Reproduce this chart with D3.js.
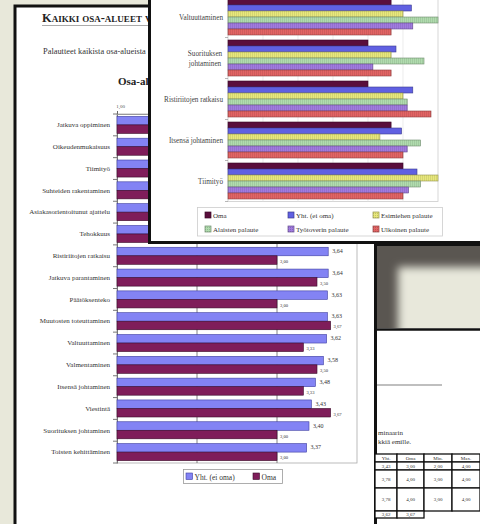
<!DOCTYPE html>
<html><head><meta charset="utf-8">
<script src="https://cdn.jsdelivr.net/npm/d3@7"></script>
<style>
html,body{margin:0;padding:0;background:#e8e8da;overflow:hidden}
svg{display:block}
text{font-family:"Liberation Serif","DejaVu Serif",serif}
</style>
</head><body>
<svg id="c" width="480" height="524"></svg>
<script>
// ---------- DATA ----------
const leftCategories = ["Jatkuva oppiminen","Oikeudenmukaisuus","Tiimityö","Suhteiden rakentaminen","Asiakasorientoitunut ajattelu","Tehokkuus","Ristiriitojen ratkaisu","Jatkuva parantaminen","Päätöksenteko","Muutosten toteuttaminen","Valtuuttaminen","Valmentaminen","Itsensä johtaminen","Viestintä","Suorituksen johtaminen","Toisten kehittäminen"];
const leftYht = [3.80,3.75,3.70,3.68,3.66,3.65,3.64,3.64,3.63,3.63,3.62,3.58,3.48,3.43,3.40,3.37];
const leftOma = [3.67,3.33,3.50,3.33,3.67,3.00,3.00,3.50,3.00,3.67,3.33,3.50,3.33,3.67,3.00,3.00];
const leftSeries = ["Yht. (ei oma)","Oma"];
const leftTicks = [1,2,3,4];

const frontCategories = ["Valtuuttaminen","Suorituksen johtaminen","Ristiriitojen ratkaisu","Itsensä johtaminen","Tiimityö"];
const frontSeries = ["Oma","Yht. (ei oma)","Esimiehen palaute","Alaisten palaute","Työtoverin palaute","Ulkoinen palaute"];
const frontOma = [3.33,3.00,3.00,3.33,3.50];
const frontYht = [3.62,3.40,3.64,3.48,3.70];
const frontEsimies = [3.50,3.33,3.50,3.17,4.00];
const frontAlaiset = [4.00,3.80,3.56,3.75,3.75];
const frontTyotoverit = [3.64,3.07,3.56,3.56,3.58];
const frontUlkoinen = [3.33,3.33,3.90,3.50,3.50];
const frontGrid = [1.5,2,2.5,3,3.5];

const tableHeader = ["Yht.","Oma","Min.","Max."];
const tableRows = [["3,43","3,00","2,00","4,00"],["3,78","4,00","3,00","4,00"],["3,78","4,00","3,00","4,00"],["3,62","3,67"]];

// ---------- SETUP ----------
const svg = d3.select("#c");
const fmt = v => d3.format(".2f")(v).replace(".", ",");
const defs = svg.append("defs");
const FRONT_BOTTOM = 243;   // front page lower edge
const FRONT_LEFT = 148;     // front page left edge

defs.append("clipPath").attr("id","leftVisible").append("rect")
  .attr("x",0).attr("y",0).attr("width",FRONT_LEFT).attr("height",FRONT_BOTTOM);

// ================= LEFT PAGE =================
svg.append("rect").attr("x",15).attr("y",6).attr("width",420).attr("height",570)
  .attr("fill","#fff").attr("stroke","#111").attr("stroke-width",3);

const head = svg.append("g").attr("clip-path","url(#leftVisible)");
head.append("text").attr("x",42).attr("y",22).attr("font-size",12.4).attr("font-weight","bold")
  .style("font-variant","small-caps").attr("fill","#222").text("Kaikki osa-alueet v");
head.append("line").attr("x1",42).attr("x2",300).attr("y1",25.5).attr("y2",25.5)
  .attr("stroke","#aaa").attr("stroke-width",1.2);
head.append("text").attr("x",43).attr("y",54).attr("font-size",8.4).attr("fill","#333")
  .text("Palautteet kaikista osa-alueista");
head.append("text").attr("x",118).attr("y",85).attr("font-size",11).attr("font-weight","bold")
  .attr("fill","#222").text("Osa-alueet");

const lx = d3.scaleLinear().domain([1,4]).range([117,357]);
const ly = d3.scaleBand().domain(leftCategories).range([114,463]);
const lInner = d3.scaleBand().domain(leftSeries).range([0, ly.bandwidth()]).paddingOuter(0.28);
const leftColors = {"Yht. (ei oma)":"#8383f4","Oma":"#7f1d5a"};
const leftStroke = {"Yht. (ei oma)":"#3c3ca0","Oma":"#3a0a28"};

const L = svg.append("g");
L.append("rect").attr("x",lx(1)).attr("y",114).attr("width",lx(4)-lx(1)).attr("height",463-114)
  .attr("fill","none").attr("stroke","#aaa").attr("stroke-width",0.8);
L.selectAll(".lg").data(leftTicks.slice(1,3)).join("line")
  .attr("x1",d=>lx(d)).attr("x2",d=>lx(d)).attr("y1",114).attr("y2",463)
  .attr("stroke","#666").attr("stroke-width",0.8);
const topAxis = d3.axisTop(lx).tickValues(leftTicks.filter(v=>lx(v)<FRONT_LEFT)).tickSize(3).tickFormat(fmt);
const tg = L.append("g").attr("transform","translate(0,114)").call(topAxis);
tg.select(".domain").attr("stroke","#999");
tg.selectAll("text").attr("font-size",5).attr("fill","#555").attr("dx",3)
  .style("font-family","Liberation Serif");
tg.selectAll("line").attr("stroke","#666");
const leftAxis = d3.axisLeft(ly).tickSize(0).tickPadding(7);
const lg = L.append("g").attr("transform",`translate(${lx(1)},0)`).call(leftAxis);
lg.select(".domain").attr("stroke","#777");
lg.selectAll("text").attr("font-size",7).attr("fill","#333").style("font-family","Liberation Serif");
L.selectAll(".bt").data(d3.range(leftCategories.length+1)).join("line")
  .attr("x1",lx(1)-4).attr("x2",lx(1)).attr("y1",i=>114+i*ly.step()).attr("y2",i=>114+i*ly.step())
  .attr("stroke","#555").attr("stroke-width",0.8);

const leftRows = leftCategories.map((c,i)=>({c, vals:[{s:"Yht. (ei oma)",v:leftYht[i]},{s:"Oma",v:leftOma[i]}]}));
const lgrp = L.selectAll(".lc").data(leftRows).join("g").attr("transform",d=>`translate(0,${ly(d.c)})`);
lgrp.selectAll("rect").data(d=>d.vals).join("rect")
  .attr("x",lx(1)).attr("y",d=>lInner(d.s)).attr("width",d=>lx(d.v)-lx(1)).attr("height",lInner.bandwidth())
  .attr("fill",d=>leftColors[d.s]).attr("stroke",d=>leftStroke[d.s]).attr("stroke-width",0.6);
lgrp.filter(d=>ly(d.c)+lInner(leftSeries[0]) > FRONT_BOTTOM)
  .selectAll("text").data(d=>d.vals).join("text")
  .attr("x",d=>lx(d.v)+(d.s==="Oma"?3:4))
  .attr("y",d=>lInner(d.s)+lInner.bandwidth()/2+(d.s==="Oma"?3:1.5))
  .attr("font-size",d=>d.s==="Oma"?4.6:6).attr("fill","#333").text(d=>fmt(d.v));

const LL = svg.append("g");
LL.append("rect").attr("x",183.5).attr("y",469.5).attr("width",99).attr("height",14)
  .attr("fill","#fff").attr("stroke","#999").attr("stroke-width",0.8);
const llx = d3.scaleOrdinal().domain(leftSeries).range([186,253]);
const lli = LL.selectAll(".li").data(leftSeries).join("g");
lli.append("rect").attr("x",d=>llx(d)).attr("y",473).attr("width",6.5).attr("height",6.5)
  .attr("fill",d=>leftColors[d]).attr("stroke",d=>leftStroke[d]).attr("stroke-width",0.6);
lli.append("text").attr("x",d=>llx(d)+8.5).attr("y",479.5).attr("font-size",7.5).attr("fill","#333").text(d=>d);

// ================= BOTTOM-RIGHT PAGE =================
svg.append("rect").attr("x",375.5).attr("y",244.5).attr("width",140).attr("height",320)
  .attr("fill","#fff").attr("stroke","#111").attr("stroke-width",3);
defs.append("clipPath").attr("id","shclip").append("rect").attr("x",377).attr("y",246).attr("width",103).attr("height",82);
defs.append("filter").attr("id","blur").attr("x","-50%").attr("y","-50%").attr("width","200%").attr("height","200%")
  .append("feGaussianBlur").attr("stdDeviation",4);
const sh = svg.append("g").attr("clip-path","url(#shclip)");
sh.append("rect").attr("x",377).attr("y",246).attr("width",103).attr("height",82).attr("fill","#5a5651");
sh.append("rect").attr("x",398).attr("y",267).attr("width",200).attr("height",150).attr("fill","#e8e8db").attr("filter","url(#blur)");
svg.append("line").attr("x1",375).attr("x2",480).attr("y1",329.5).attr("y2",329.5).attr("stroke","#111").attr("stroke-width",2.5);
svg.append("line").attr("x1",377).attr("x2",442).attr("y1",385).attr("y2",385).attr("stroke","#aaa").attr("stroke-width",1.5);
svg.append("text").attr("x",378).attr("y",434.5).attr("font-size",7).attr("fill","#333").text("minaarin");
svg.append("text").attr("x",378).attr("y",444).attr("font-size",7).attr("fill","#333").text("kkiä emille.");

const colEdges = [375,397,424,452,480];
const rowEdges = [454,462,470,488,511,518];
const T = svg.append("g");
const allRows = [tableHeader].concat(tableRows);
allRows.forEach((row,ri)=>{
  row.forEach((cell,ci)=>{
    T.append("rect").attr("x",colEdges[ci]).attr("y",rowEdges[ri]).attr("width",colEdges[ci+1]-colEdges[ci])
      .attr("height",rowEdges[ri+1]-rowEdges[ri]).attr("fill","#fff").attr("stroke","#111").attr("stroke-width",1.3);
    T.append("text").attr("x",(colEdges[ci]+colEdges[ci+1])/2).attr("y",(rowEdges[ri]+rowEdges[ri+1])/2+1.8)
      .attr("text-anchor","middle").attr("font-size",5).attr("fill","#333").text(cell);
  });
});

// ================= FRONT PAGE =================
svg.append("rect").attr("x",FRONT_LEFT+1.5).attr("y",-10).attr("width",340).attr("height",FRONT_BOTTOM+10-0.5)
  .attr("fill","#fff").attr("stroke","#111").attr("stroke-width",3);

const fx = d3.scaleLinear().domain([1,4]).range([228,438]);
const fy = d3.scaleBand().domain(frontCategories).range([-3.5,201.5]);
const fInner = d3.scaleBand().domain(frontSeries).range([0,fy.bandwidth()]).paddingOuter(0.417);
const frontColors = ["#5a0e3c","#6060e2","#e8e87c","#b0dcae","#a17be0","#e26464"];
const frontValues = [frontOma,frontYht,frontEsimies,frontAlaiset,frontTyotoverit,frontUlkoinen];

frontSeries.forEach((s,i)=>{
  const p = defs.append("pattern").attr("id","pat"+i).attr("patternUnits","userSpaceOnUse").attr("width",2).attr("height",2);
  p.append("rect").attr("width",2).attr("height",2).attr("fill",frontColors[i]);
  if(i>=2){
    p.append("rect").attr("width",1).attr("height",1).attr("fill",d3.color(frontColors[i]).darker(0.5));
  }
});

const F = svg.append("g");
F.append("rect").attr("x",fx(1)).attr("y",-5).attr("width",fx(4)-fx(1)).attr("height",201.5+5)
  .attr("fill","#fff").attr("stroke","#ccc").attr("stroke-width",0.8);
F.selectAll(".fg").data(frontGrid).join("line")
  .attr("x1",d=>fx(d)).attr("x2",d=>fx(d)).attr("y1",-5).attr("y2",201.5)
  .attr("stroke","#e4e4e4").attr("stroke-width",0.7);

const fRows = frontCategories.map((c,ci)=>({c, vals: frontSeries.map((s,si)=>({s,si,v:frontValues[si][ci]}))}));
const fg = F.selectAll(".fc").data(fRows).join("g").attr("transform",d=>`translate(0,${fy(d.c)})`);
fg.selectAll("rect").data(d=>d.vals).join("rect")
  .attr("x",fx(1)).attr("y",d=>fInner(d.s)).attr("width",d=>fx(d.v)-fx(1)).attr("height",fInner.bandwidth())
  .attr("fill",d=>`url(#pat${d.si})`).attr("stroke",d=>d3.color(frontColors[d.si]).darker(1.3)).attr("stroke-width",0.6);

const fl = F.selectAll(".fl").data(frontCategories).join("text")
  .attr("y",d=>fy(d)+fy.bandwidth()/2+2.5).attr("font-size",7.2).attr("fill","#444");
fl.each(function(d){
  const t = d3.select(this);
  if(d==="Suorituksen johtaminen"){
    t.attr("text-anchor","middle");
    t.append("tspan").attr("x",205).attr("dy",-5).text("Suorituksen");
    t.append("tspan").attr("x",205).attr("dy",10).text("johtaminen");
  } else {
    t.attr("text-anchor","end").attr("x",223).text(d);
  }
});
F.selectAll(".ft").data(d3.range(frontCategories.length+1)).join("line")
  .attr("x1",fx(1)-3).attr("x2",fx(1)).attr("y1",i=>-3.5+i*fy.step()).attr("y2",i=>-3.5+i*fy.step())
  .attr("stroke","#999").attr("stroke-width",0.7);

const FL = svg.append("g");
FL.append("rect").attr("x",197.5).attr("y",207.5).attr("width",245).attr("height",28.5)
  .attr("fill","#fff").attr("stroke","#ccc").attr("stroke-width",0.8);
const legCol = d3.scaleOrdinal().domain([0,1,2]).range([205,288,373]);
const legRow = d3.scaleOrdinal().domain([0,1]).range([215,229]);
const fli = FL.selectAll(".fli").data(frontSeries).join("g")
  .attr("transform",(d,i)=>`translate(${legCol(i%3)},${legRow(Math.floor(i/3))})`);
fli.append("rect").attr("x",0).attr("y",-3).attr("width",6).attr("height",6)
  .attr("fill",(d,i)=>`url(#pat${i})`).attr("stroke",(d,i)=>d3.color(frontColors[i]).darker(1.3)).attr("stroke-width",0.7);
fli.append("text").attr("x",8).attr("y",2.5).attr("font-size",7).attr("fill","#333").text(d=>d);
</script>
</body></html>
